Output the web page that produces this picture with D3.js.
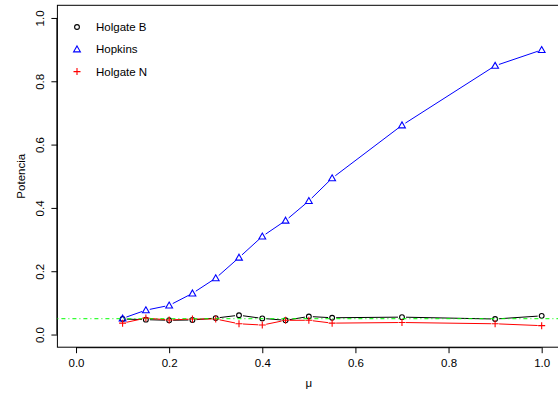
<!DOCTYPE html>
<html>
<head>
<meta charset="utf-8">
<script src="https://cdn.jsdelivr.net/npm/d3@7"></script>
<style>
  body { margin: 0; background: #fff; }
  svg text { font-family: "Liberation Sans", Arial, sans-serif; }
</style>
</head>
<body>
<div id="chart"></div>
<script>
// power simulation: mu values and rejection rates
var mu = [0.1, 0.15, 0.2, 0.25, 0.3, 0.35, 0.4, 0.45, 0.5, 0.55, 0.7, 0.9, 1.0];
var holgateB = [0.049, 0.047, 0.045, 0.046, 0.052, 0.061, 0.051, 0.045, 0.057, 0.053, 0.055, 0.049, 0.059];
var hopkins  = [0.051, 0.077, 0.092, 0.130, 0.178, 0.243, 0.310, 0.360, 0.422, 0.494, 0.661, 0.849, 0.899];
var holgateN = [0.036, 0.052, 0.046, 0.049, 0.049, 0.034, 0.030, 0.045, 0.045, 0.036, 0.038, 0.034, 0.028];
var xTicks = [0, 0.2, 0.4, 0.6, 0.8, 1.0];
var yTicks = [0, 0.2, 0.4, 0.6, 0.8, 1.0];
var legendLabels = ["Holgate B", "Hopkins", "Holgate N"];
var refLevel = 0.05;

var W = 558, H = 393;
// plot region (R style, 4% expansion on both axes)
var box = {left: 57.4, right: 560.3, top: 5.3, bottom: 347.2};

var x = d3.scaleLinear().domain([-0.04, 1.04]).range([box.left, box.right]);
var y = d3.scaleLinear().domain([-0.04, 1.04]).range([box.bottom, box.top]);

var svg = d3.select("#chart").append("svg")
  .attr("width", W).attr("height", H);

// box
svg.append("rect")
  .attr("x", box.left).attr("y", box.top)
  .attr("width", box.right - box.left).attr("height", box.bottom - box.top)
  .attr("fill", "none").attr("stroke", "#000").attr("stroke-width", 1);

// x axis
var xAxis = svg.append("g")
  .attr("transform", "translate(0," + box.bottom + ")")
  .call(d3.axisBottom(x).tickValues(xTicks).tickFormat(d3.format(".1f")).tickSize(6).tickPadding(6))
xAxis.select(".domain").attr("d", "M" + x(0) + ",0.5H" + x(1));
xAxis.selectAll("text").attr("font-size", "11.5px").attr("fill", "#000").attr("font-family", "Liberation Sans, Arial, sans-serif");

// y axis (rotated labels like R default)
var yAxis = svg.append("g")
  .attr("transform", "translate(" + box.left + ",0)")
  .call(d3.axisLeft(y).tickValues(yTicks).tickFormat(d3.format(".1f")).tickSize(6));
yAxis.select(".domain").attr("d", "M-0.5," + y(0) + "V" + y(1));
yAxis.selectAll("text")
  .attr("x", null).attr("dy", null)
  .attr("font-size", "11.5px").attr("fill", "#000").attr("font-family", "Liberation Sans, Arial, sans-serif")
  .attr("text-anchor", "middle")
  .attr("transform", "translate(-13,0) rotate(-90)");

// axis titles
svg.append("text")
  .attr("transform", "translate(25," + ((box.top + box.bottom) / 2) + ") rotate(-90)")
  .attr("text-anchor", "middle").attr("font-size", "11.5px").text("Potencia");
svg.append("text")
  .attr("x", (box.left + box.right) / 2).attr("y", 387)
  .attr("text-anchor", "middle").attr("font-size", "11.5px").text("\u03bc");

var line = d3.line().x(function(d) { return x(d[0]); }).y(function(d) { return y(d[1]); });

function zip(vals) { return mu.map(function(m, i) { return [m, vals[i]]; }); }

var series = [
  {name: legendLabels[0], vals: holgateB, color: "#000000", shape: "circle"},
  {name: legendLabels[1], vals: hopkins,  color: "#0000ff", shape: "triangle"},
  {name: legendLabels[2], vals: holgateN, color: "#ff0000", shape: "plus"}
];

function drawMarker(g, shape, color, cx, cy) {
  if (shape === "circle") {
    g.append("circle").attr("cx", cx).attr("cy", cy).attr("r", 2.4)
      .attr("fill", "none").attr("stroke", color).attr("stroke-width", 1.1);
  } else if (shape === "triangle") {
    var s = 3.4;
    g.append("path")
      .attr("d", "M" + cx + "," + (cy - s) + "L" + (cx + s) + "," + (cy + s * 0.75) + "L" + (cx - s) + "," + (cy + s * 0.75) + "Z")
      .attr("fill", "none").attr("stroke", color).attr("stroke-width", 1.1);
  } else {
    var p = 3.5;
    g.append("path")
      .attr("d", "M" + (cx - p) + "," + cy + "H" + (cx + p) + "M" + cx + "," + (cy - p) + "V" + (cy + p))
      .attr("stroke", color).attr("stroke-width", 1.1);
  }
}

series.forEach(function(s) {
  var data = zip(s.vals);
  var g = svg.append("g");
  // segments with gaps around markers, like R type="b"
  for (var i = 0; i < data.length - 1; i++) {
    var x0 = x(data[i][0]), y0 = y(data[i][1]), x1 = x(data[i + 1][0]), y1 = y(data[i + 1][1]);
    var dx = x1 - x0, dy = y1 - y0, len = Math.sqrt(dx * dx + dy * dy), gap = 4;
    if (len > 2 * gap) {
      g.append("line")
        .attr("x1", x0 + dx / len * gap).attr("y1", y0 + dy / len * gap)
        .attr("x2", x1 - dx / len * gap).attr("y2", y1 - dy / len * gap)
        .attr("stroke", s.color).attr("stroke-width", 1);
    }
  }
  data.forEach(function(d) { drawMarker(g, s.shape, s.color, x(d[0]), y(d[1])); });
});

// reference line at 0.05
svg.append("line")
  .attr("x1", box.left).attr("x2", box.right)
  .attr("y1", y(refLevel)).attr("y2", y(refLevel))
  .attr("stroke", "#00ff00").attr("stroke-width", 1)
  .attr("stroke-dasharray", "1,3,4,3");

// legend
var leg = svg.append("g");
legendLabels.forEach(function(lab, i) {
  var ly = 27 + i * 22.3;
  drawMarker(leg, series[i].shape, series[i].color, 77, ly);
  leg.append("text").attr("x", 96).attr("y", ly + 4).attr("font-size", "11.5px").text(lab);
});
</script>
</body>
</html>
